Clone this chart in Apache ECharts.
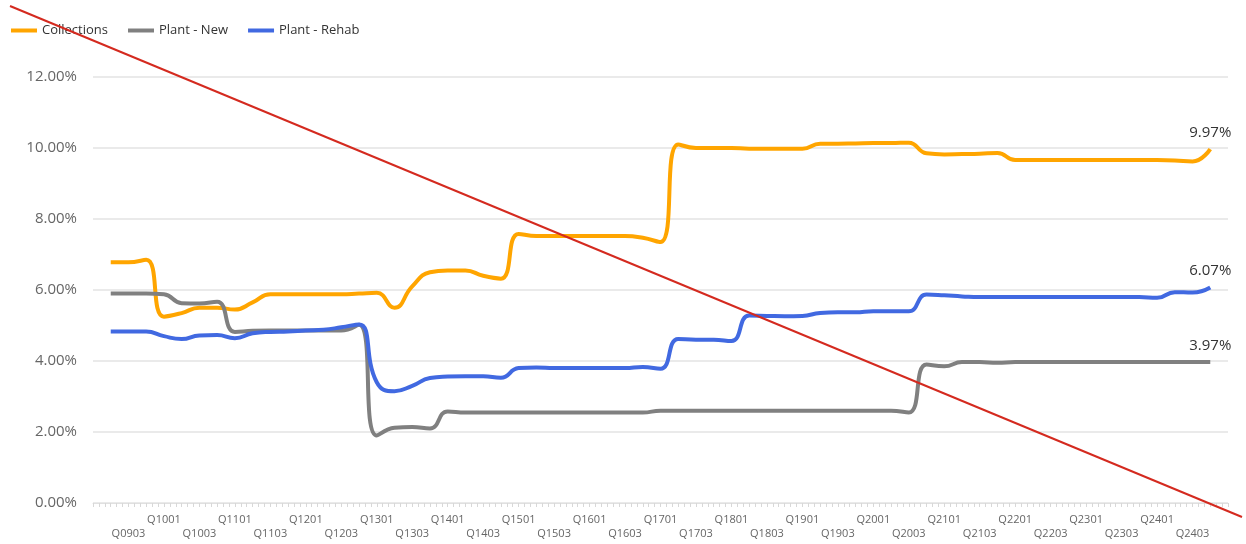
<!DOCTYPE html>
<html>
<head>
<meta charset="utf-8">
<script src="https://cdn.jsdelivr.net/npm/echarts@6/dist/echarts.min.js"></script>
<style>
  html, body { margin: 0; padding: 0; background: #fff; }
  #chart { width: 1246px; height: 544px; }
</style>
</head>
<body>
<div id="chart"></div>
<script>
// quarters Q0902 .. Q2404
const quarters = [
  'Q0902', 'Q0903', 'Q0904',
  'Q1001', 'Q1002', 'Q1003', 'Q1004',
  'Q1101', 'Q1102', 'Q1103', 'Q1104',
  'Q1201', 'Q1202', 'Q1203', 'Q1204',
  'Q1301', 'Q1302', 'Q1303', 'Q1304',
  'Q1401', 'Q1402', 'Q1403', 'Q1404',
  'Q1501', 'Q1502', 'Q1503', 'Q1504',
  'Q1601', 'Q1602', 'Q1603', 'Q1604',
  'Q1701', 'Q1702', 'Q1703', 'Q1704',
  'Q1801', 'Q1802', 'Q1803', 'Q1804',
  'Q1901', 'Q1902', 'Q1903', 'Q1904',
  'Q2001', 'Q2002', 'Q2003', 'Q2004',
  'Q2101', 'Q2102', 'Q2103', 'Q2104',
  'Q2201', 'Q2202', 'Q2203', 'Q2204',
  'Q2301', 'Q2302', 'Q2303', 'Q2304',
  'Q2401', 'Q2402', 'Q2403', 'Q2404'
]

// values in %
const collections = [
  6.78, 6.78, 6.85, 5.25, 5.35, 5.5, 5.5, 5.45, 5.65, 5.88,
  5.88, 5.88, 5.88, 5.88, 5.9, 5.92, 5.5, 6.1, 6.5, 6.55,
  6.55, 6.4, 6.32, 7.58, 7.52, 7.52, 7.52, 7.52, 7.52, 7.52,
  7.47, 7.35, 10.1, 10.0, 10.0, 10.0, 9.98, 9.98, 9.98, 9.98,
  10.12, 10.12, 10.13, 10.14, 10.14, 10.15, 9.85, 9.82, 9.83, 9.84,
  9.86, 9.66, 9.66, 9.66, 9.66, 9.66, 9.66, 9.66, 9.66, 9.66,
  9.65, 9.62, 9.97
]
const plantNew = [
  5.9, 5.9, 5.9, 5.88, 5.63, 5.62, 5.67, 4.82, 4.85, 4.86,
  4.86, 4.86, 4.86, 4.86, 5.02, 1.9, 2.12, 2.14, 2.1, 2.58,
  2.55, 2.55, 2.55, 2.55, 2.55, 2.55, 2.55, 2.55, 2.55, 2.55,
  2.55, 2.6, 2.6, 2.6, 2.6, 2.6, 2.6, 2.6, 2.6, 2.6,
  2.6, 2.6, 2.6, 2.6, 2.6, 2.55, 3.9, 3.85, 3.97, 3.97,
  3.95, 3.97, 3.97, 3.97, 3.97, 3.97, 3.97, 3.97, 3.97, 3.97,
  3.97, 3.97, 3.97
]
const plantRehab = [
  4.83, 4.83, 4.83, 4.7, 4.62, 4.72, 4.73, 4.64, 4.78, 4.82,
  4.83, 4.86, 4.88, 4.95, 5.03, 3.4, 3.15, 3.3, 3.52, 3.56,
  3.57, 3.57, 3.53, 3.8, 3.82, 3.8, 3.8, 3.8, 3.8, 3.8,
  3.83, 3.78, 4.62, 4.6, 4.6, 4.56, 5.28, 5.27, 5.26, 5.27,
  5.35, 5.37, 5.37, 5.4, 5.4, 5.4, 5.87, 5.85, 5.82, 5.8,
  5.8, 5.8, 5.8, 5.8, 5.8, 5.8, 5.8, 5.8, 5.8, 5.78,
  5.94, 5.93, 6.07
]

const seriesNames = ['Collections', 'Plant - New', 'Plant - Rehab']
const seriesColors = ['#FFA500', '#808080', '#4169E1']
const yTicks = [0, 2, 4, 6, 8, 10, 12]

const font = '"Open Sans", "Noto Sans", sans-serif'
const chart = echarts.init(document.getElementById('chart'))

// one empty slot on each side of the data
const axisData = [''].concat(quarters, [''])
const pad = arr => [null].concat(arr, [null])
const lastIdx = quarters.length

const makeSeries = (name, data, color) => ({
  name,
  type: 'line',
  data: pad(data),
  smooth: 0.5,
  symbol: 'circle',
  symbolSize: 0,
  showSymbol: true,
  showAllSymbol: true,
  xAxisIndex: 0,
  lineStyle: { width: 4, color },
  itemStyle: { color },
  label: {
    show: true,
    position: 'top',
    distance: 9,
    fontSize: 15,
    fontFamily: font,
    color: '#333',
    formatter: p => p.dataIndex === lastIdx ? p.value.toFixed(2) + '%' : ''
  }
})

const option = {
  animation: false,
  textStyle: { fontFamily: font },
  legend: {
    left: 6,
    top: 19,
    icon: 'rect',
    itemWidth: 26,
    itemHeight: 4,
    itemGap: 20,
    textStyle: { fontSize: 13, color: '#333', fontFamily: font },
    data: seriesNames
  },
  grid: { left: 93, right: 18, top: 77, bottom: 41 },
  xAxis: [{
    type: 'category',
    data: axisData,
    boundaryGap: false,
    axisLine: { lineStyle: { color: '#e0e0e0', width: 1 } },
    axisTick: { show: false },
    axisLabel: {
      interval: (i, v) => /0[13]$/.test(v),
      margin: 10,
      fontSize: 11,
      lineHeight: 14,
      color: '#666',
      fontFamily: font,
      formatter: v => v.endsWith('03') ? '\n' + v : v
    }
  }, {
    // fine tick marks only
    type: 'category',
    position: 'bottom',
    data: new Array(193).fill(''),
    boundaryGap: false,
    axisLine: { show: false },
    axisTick: { show: true, length: 4, interval: 0, lineStyle: { color: '#d8d8d8' } },
    axisLabel: { show: false }
  }],
  yAxis: {
    type: 'value',
    min: yTicks[0],
    max: yTicks[yTicks.length - 1],
    interval: 2,
    axisLine: { show: false },
    axisTick: { show: false },
    splitLine: { lineStyle: { color: '#e3e3e3', width: 1.5 } },
    axisLabel: {
      margin: 16,
      fontSize: 15,
      color: '#666',
      fontFamily: font,
      formatter: v => v.toFixed(2) + '%'
    }
  },
  series: [
    makeSeries(seriesNames[0], collections, seriesColors[0]),
    makeSeries(seriesNames[1], plantNew, seriesColors[1]),
    makeSeries(seriesNames[2], plantRehab, seriesColors[2])
  ],
  graphic: [{
    type: 'line',
    z: 100,
    shape: { x1: 10, y1: 6, x2: 1242, y2: 517 },
    style: { stroke: '#d42a1f', lineWidth: 2 }
  }]
}

chart.setOption(option)
window.addEventListener('resize', () => chart.resize())
</script>
</body>
</html>
